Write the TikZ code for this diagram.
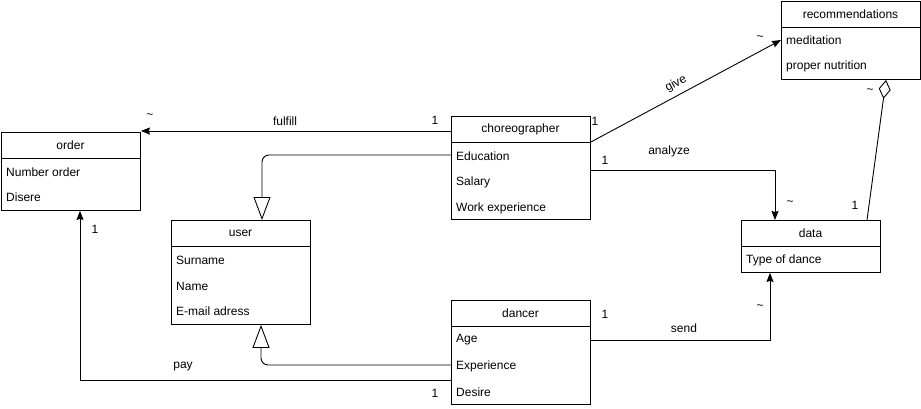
\documentclass[tikz,border=0pt]{standalone}
\usepackage{fontspec}
\setmainfont{Liberation Sans}
\usetikzlibrary{arrows.meta,calc}
\tikzset{
  box/.style={draw, line width=0.9pt, inner sep=0pt, anchor=north west},
  ttl/.style={inner sep=0pt, anchor=center},
  row/.style={inner sep=0pt, anchor=west},
  lbl/.style={inner sep=0pt, anchor=center},
  conn/.style={line width=0.9pt},
  assoc/.style={conn, -{Stealth[length=9pt,width=7pt,inset=1pt]}},
  gen/.style={conn, rounded corners=7pt, -{Triangle[open,length=23pt,width=17pt]}},
  aggr/.style={conn, -{Diamond[open,length=19pt,width=12pt]}},
}
\newcommand\hdrline[1]{\draw[conn] ([yshift=-26pt]#1.north west) -- ([yshift=-26pt]#1.north east);}
\begin{document}
\begin{tikzpicture}[x=1pt,y=-1pt,font=\fontsize{12}{14}\selectfont]
\useasboundingbox (0,0) rectangle (921,408);
% order
\node[box, minimum width=139pt, minimum height=78pt] (order) at (1,132) {};
\hdrline{order}
\node[ttl] (orderT) at (70.5,145) {order};
\node[row] (orderA) at (6,172) {Number order};
\node[row] (orderB) at (6,197) {Disere};
% choreographer
\node[box, minimum width=139pt, minimum height=103pt] (chor) at (451,116) {};
\hdrline{chor}
\node[ttl] (chorT) at (520.5,129) {choreographer};
\node[row] (chorA) at (456,156) {Education};
\node[row] (chorB) at (456,182) {Salary};
\node[row] (chorC) at (456,208) {Work experience};
% user
\node[box, minimum width=139pt, minimum height=104pt] (user) at (171,220) {};
\hdrline{user}
\node[ttl] (userT) at (240.5,233) {user};
\node[row] (userA) at (176,260) {Surname};
\node[row] (userB) at (176,286) {Name};
\node[row] (userC) at (176,311) {E-mail adress};
% dancer
\node[box, minimum width=139pt, minimum height=104pt] (dancer) at (451,300) {};
\hdrline{dancer}
\node[ttl] (dancerT) at (520.5,313) {dancer};
\node[row] (dancerA) at (456,340) {Age};
\node[row] (dancerB) at (456,366) {Experience};
\node[row] (dancerC) at (456,392) {Desire};
% recommendations
\node[box, minimum width=139pt, minimum height=78pt] (rec) at (781,1) {};
\hdrline{rec}
\node[ttl] (recT) at (850.5,14) {recommendations};
\node[row] (recA) at (786,40) {meditation};
\node[row] (recB) at (786,66) {proper nutrition};
% data
\node[box, minimum width=139pt, minimum height=52pt] (data) at (741,220) {};
\hdrline{data}
\node[ttl] (dataT) at (810.5,233) {data};
\node[row] (dataA) at (746,260) {Type of dance};
% coordinates for connector ends
\coordinate (fulS) at (chor.west |- 0,131);
\coordinate (fulE) at (order.east |- 0,131);
\coordinate (g1S) at (chor.west |- 0,155);
\coordinate (g1E) at (262,0 |- user.north);
\coordinate (g2S) at (dancer.west |- 0,365);
\coordinate (g2E) at (261,0 |- user.south);
\coordinate (payS) at (dancer.west |- 0,380);
\coordinate (payE) at (80,0 |- order.south);
\coordinate (giveS) at ([yshift=-26pt]chor.north east);
\coordinate (giveE) at (rec.west |- 0,40);
\coordinate (anS) at (chor.east |- 0,170);
\coordinate (anE) at (775,0 |- data.north);
\coordinate (sdS) at (dancer.east |- 0,340);
\coordinate (sdE) at (770,0 |- data.south);
\coordinate (agS) at (867,0 |- data.north);
\coordinate (agE) at (886,0 |- rec.south);
% connectors
\draw[assoc] (fulS) -- (fulE);
\draw[gen] (g1S) -| (g1E);
\draw[gen] (g2S) -| (g2E);
\draw[assoc] (payS) -| (payE);
\draw[assoc] (giveS) -- (giveE);
\draw[assoc] (anS) -| (anE);
\draw[assoc] (sdS) -| (sdE);
\draw[aggr] (agS) -- (agE);
% labels
\node[lbl] (l1) at (150,116) {\textasciitilde};
\node[lbl] (l2) at (285,121) {fulfill};
\node[lbl] (l3) at (435,120) {1};
\node[lbl] (l4) at (595,121) {1};
\node[lbl, rotate=28] (l5) at (676,84) {give};
\node[lbl] (l6) at (760,38) {\textasciitilde};
\node[lbl] (l7) at (669,151) {analyze};
\node[lbl] (l8) at (605,160) {1};
\node[lbl] (l9) at (790,203) {\textasciitilde};
\node[lbl] (l10) at (855,205) {1};
\node[lbl] (l11) at (870,91) {\textasciitilde};
\node[lbl] (l12) at (95,229) {1};
\node[lbl] (l13) at (183,367) {pay};
\node[lbl] (l14) at (435,393) {1};
\node[lbl] (l15) at (684,328) {send};
\node[lbl] (l16) at (605,314) {1};
\node[lbl] (l17) at (760,307) {\textasciitilde};
\end{tikzpicture}
\end{document}
